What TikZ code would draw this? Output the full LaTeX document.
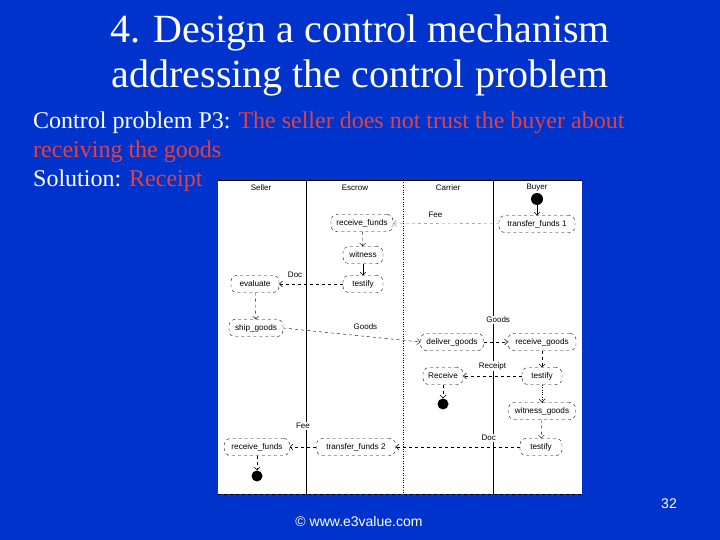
\documentclass[tikz,border=0pt]{standalone}
\usepackage{fontspec}
\setmainfont{Liberation Serif}
\newfontfamily\diagfont{Liberation Sans}
\usetikzlibrary{arrows.meta}
\definecolor{slideblue}{RGB}{0,51,204}
\definecolor{probred}{RGB}{224,66,66}

\begin{document}
\begin{tikzpicture}[x=1pt, y=-1pt,
    every node/.style={inner sep=0pt},
    act/.style={draw, dashed, rounded corners=6pt, fill=white, font=\diagfont\fontsize{8.2}{9}\selectfont, minimum height=17pt, align=center},
    lane/.style={font=\diagfont\fontsize{8}{9}\selectfont},
    flowlabel/.style={font=\diagfont\fontsize{8}{9}\selectfont, fill=white, inner sep=1pt},
    blob/.style={circle, fill=black, minimum size=11pt},
    flow/.style={draw, dashed, -{Straight Barb[length=3pt,width=6pt]}},
    step flow/.style={draw, -{Straight Barb[length=3pt,width=6pt]}}]
% slide
\useasboundingbox (0,0) rectangle (720,540);
\fill[slideblue] (0,0) rectangle (720,540);
\node[anchor=base, text=white, font=\fontsize{40}{45}\selectfont, align=center] (title) at (360,88) {4. Design a control mechanism\\addressing the control problem};
\node[anchor=base west, text=white, font=\fontsize{24}{29}\selectfont, align=left] (problem) at (33,187)
  {Control problem P3: \textcolor{probred}{The seller does not trust the buyer about}\\
   \textcolor{probred}{receiving the goods}\\
   Solution: \textcolor{probred}{Receipt}};
% swimlanes
\fill[white] (218,180) rectangle (582,494);
\draw (218,180) -- (582,180);
\draw[dashed] (218,494) -- (582,494);
\draw (306,180) -- (306,494);
\draw[dotted] (403,180) -- (403,494);
\draw (493,180) -- (493,494);
\node[lane] (seller) at (261,188) {Seller};
\node[lane] (escrow) at (355,188) {Escrow};
\node[lane] (carrier) at (448,188) {Carrier};
\node[lane] (buyer) at (537,188) {Buyer};
% activities
\node[blob, minimum size=12pt] (start) at (537,199) {};
\node[act, minimum width=76pt] (tf1) at (537,224) {transfer\_funds 1};
\node[act, minimum width=62pt] (rfe) at (362,223) {receive\_funds};
\node[act, minimum width=40pt] (wit) at (363,255) {witness};
\node[act, minimum width=40pt] (tse) at (363,284) {testify};
\node[act, minimum width=48pt] (eval) at (255,284) {evaluate};
\node[act, minimum width=54pt] (ship) at (256,328) {ship\_goods};
\node[act, minimum width=63pt] (dlv) at (452,342) {deliver\_goods};
\node[act, minimum width=68pt] (rcg) at (542,342) {receive\_goods};
\node[act, minimum width=40pt] (rcpt) at (443,376) {Receive};
\node[act, minimum width=40pt] (tsb) at (542,376) {testify};
\node[blob] (endc) at (443,404) {};
\node[act, minimum width=67pt] (wg) at (542,411) {witness\_goods};
\node[act, minimum width=42pt] (tsb2) at (541,447) {testify};
\node[act, minimum width=79pt] (tf2) at (356,447) {transfer\_funds 2};
\node[act, minimum width=65pt] (rfs) at (257,447) {receive\_funds};
\node[blob] (ends) at (257,476) {};
% flows
\draw[step flow] (start) -- (tf1);
\draw[flow, black!50] (tf1) -- (rfe) node[flowlabel, pos=0.6, above=5pt, text=black] {Fee};
\draw[flow] (rfe) -- (wit);
\draw[step flow] (wit) -- (tse);
\draw[flow] (tse) -- (eval) node[flowlabel, pos=0.75, above=5pt] {Doc};
\draw[flow] (eval) -- (ship);
\draw[flow] (ship.east) -- (dlv.west) node[flowlabel, pos=0.6, above=6pt] {Goods};
\draw[flow] (dlv) -- (rcg) node[flowlabel, pos=0.6, above=18pt] {Goods};
\draw[flow] (rcg) -- (tsb);
\draw[flow] (tsb) -- (rcpt) node[flowlabel, pos=0.5, above=5pt] {Receipt};
\draw[flow] (rcpt) -- (endc);
\draw[step flow, dotted] (tsb) -- (wg);
\draw[flow] (wg) -- (tsb2);
\draw[flow] (tsb2) -- (tf2) node[flowlabel, pos=0.25, above=5pt] {Doc};
\draw[flow] (tf2) -- (rfs) node[flowlabel, pos=0.5, above=17pt] {Fee};
\draw[flow] (rfs) -- (ends);
% footer
\node[text=white, font=\diagfont\fontsize{14}{16}\selectfont] (site) at (359,521) {\textcopyright{} www.e3value.com};
\node[text=white, font=\diagfont\fontsize{14}{16}\selectfont] (page) at (669,504) {32};
\end{tikzpicture}
\end{document}
